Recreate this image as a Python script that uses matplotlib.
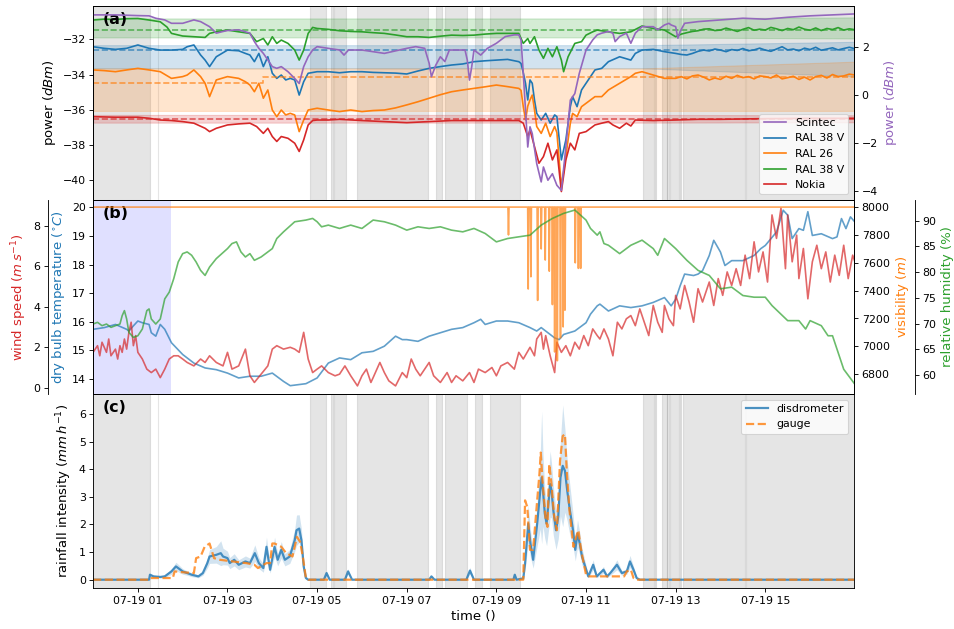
import numpy as np
import matplotlib
matplotlib.use('Agg')
import matplotlib.pyplot as plt
import matplotlib.dates as mdates

plt.rcParams['axes.labelsize'] = 12

day = np.datetime64('2019-07-19T00:00')

# periods marked as dry (hours after midnight)
dry_spans = [(0.0, 1.26), (1.44, 1.46), (4.84, 5.19), (5.32, 5.36), (5.38, 5.65),
             (5.88, 7.48), (7.65, 7.78), (7.85, 8.34), (8.52, 8.67), (8.86, 9.53),
             (12.28, 12.51), (12.54, 12.56), (12.69, 12.80), (12.81, 12.86),
             (12.88, 13.07), (13.10, 13.12), (13.16, 14.55), (14.57, 17.0)]
met_span = (0.0, 1.74)

# ---- link received power (dBm) ----
t_late = [13.0, 13.125, 13.25, 13.375, 13.5, 13.625, 13.75, 13.875, 14.0, 14.125,
          14.25, 14.375, 14.5, 14.625, 14.75, 14.875, 15.0, 15.125, 15.25, 15.375,
          15.5, 15.625, 15.75, 15.875, 16.0, 16.125, 16.25, 16.375, 16.5, 16.625,
          16.75, 16.875, 17.0]

link_t = [0, 0.25, 0.5, 0.75, 1.0, 1.25, 1.5, 1.75, 2.0, 2.1,
          2.25, 2.4, 2.5, 2.6, 2.75, 3.0, 3.25, 3.4, 3.5, 3.6,
          3.7, 3.8, 3.9, 4.0, 4.1, 4.2, 4.3, 4.4, 4.5, 4.6,
          4.7, 4.8, 5.0, 5.25, 5.5, 5.75, 6.0, 6.25, 6.5, 6.75,
          7.0, 7.25, 7.5, 7.75, 8.0, 8.25, 8.5, 8.75, 9.0, 9.25,
          9.5, 9.55, 9.6, 9.65, 9.7, 9.75, 9.8, 9.85, 9.9, 10.0,
          10.1, 10.2, 10.3, 10.35, 10.45, 10.55, 10.65, 10.7, 10.8, 10.9,
          11.0, 11.2, 11.35, 11.5, 11.75, 12.0, 12.1, 12.25, 12.5, 12.75]

ral38a_dbm = [-32.42, -32.51, -32.57, -32.51, -32.32, -32.51, -32.61, -32.61, -32.57, -32.42,
              -32.32, -32.89, -33.18, -33.55, -32.99, -32.61, -32.65, -32.80, -32.89, -33.27,
              -32.80, -33.55, -32.99, -33.93, -34.22, -34.03, -34.31, -34.22, -34.31, -35.17,
              -34.41, -33.93, -33.84, -33.84, -33.90, -33.84, -33.84, -33.88, -33.90, -33.92,
              -33.97, -33.80, -33.65, -33.55, -33.46, -33.40, -33.27, -33.22, -33.18, -33.14,
              -33.27, -33.37, -33.90, -34.50, -35.45, -34.31, -34.50, -35.45, -36.21, -36.59,
              -36.21, -36.77, -36.30, -36.40, -38.86, -37.72, -35.83, -35.26, -35.83, -34.88,
              -34.50, -33.74, -33.65, -33.27, -32.99, -33.18, -32.80, -32.61, -32.57, -32.70]
ral38a_late = [-32.80, -32.86, -32.89, -32.80, -32.68, -32.61, -32.66, -32.55, -32.61, -32.70,
               -32.58, -32.63, -32.52, -32.65, -32.60, -32.50, -32.61, -32.68, -32.55, -32.42,
               -32.60, -32.55, -32.65, -32.50, -32.58, -32.45, -32.62, -32.55, -32.48, -32.60,
               -32.52, -32.45, -32.53]

ral26_dbm = [-33.74, -33.78, -33.84, -33.74, -33.65, -33.74, -33.84, -34.22, -34.12, -34.03,
             -33.74, -34.12, -34.50, -35.26, -34.31, -34.12, -34.22, -34.41, -34.60, -34.98,
             -34.50, -35.35, -34.88, -36.02, -36.40, -36.02, -36.30, -36.21, -36.30, -37.25,
             -36.59, -36.02, -35.92, -36.02, -36.11, -36.02, -36.11, -36.05, -36.02, -35.90,
             -35.73, -35.55, -35.35, -35.15, -34.98, -34.88, -34.79, -34.70, -34.60, -34.69,
             -34.79, -34.90, -35.83, -36.59, -35.80, -35.45, -35.17, -36.00, -36.96, -37.35,
             -36.77, -37.53, -36.96, -37.30, -40.37, -38.67, -36.77, -36.21, -36.40, -35.83,
             -35.64, -35.26, -35.26, -34.88, -34.50, -34.12, -33.93, -33.84, -34.03, -34.22]
ral26_late = [-34.22, -34.12, -34.25, -34.08, -34.03, -34.15, -34.31, -34.20, -34.28, -34.10,
              -34.22, -34.05, -34.18, -34.12, -34.25, -34.08, -34.12, -34.20, -34.03, -34.25,
              -34.18, -34.10, -34.28, -34.15, -34.31, -34.12, -34.05, -34.20, -34.00, -34.12,
              -34.08, -33.98, -34.03]

ral38b_t = [0, 0.25, 0.5, 0.75, 1.0, 1.25, 1.5, 1.65, 1.75, 2.0,
            2.25, 2.5, 2.6, 2.75, 3.0, 3.25, 3.5, 3.65, 3.8, 3.9,
            4.0, 4.1, 4.2, 4.35, 4.5, 4.6, 4.7, 4.8, 4.9, 5.0,
            5.25, 5.5, 5.75, 6.0, 6.25, 6.5, 6.75, 7.0, 7.25, 7.5,
            7.75, 8.0, 8.25, 8.5, 8.75, 9.0, 9.3, 9.5, 9.6, 9.7,
            9.75, 9.85, 9.95, 10.05, 10.15, 10.25, 10.35, 10.45, 10.5, 10.6,
            10.75, 10.9, 11.0, 11.15, 11.25, 11.5, 11.75, 12.0, 12.25, 12.5,
            12.75]
ral38b_dbm = [-30.90, -30.85, -30.87, -30.82, -30.81, -30.90, -31.00, -31.30, -31.66, -31.81,
              -31.85, -31.89, -31.66, -31.57, -31.47, -31.57, -31.66, -32.13, -31.95, -32.32,
              -31.85, -32.23, -32.04, -32.23, -32.61, -33.18, -32.61, -31.66, -31.32, -31.38,
              -31.43, -31.51, -31.55, -31.57, -31.62, -31.66, -31.75, -31.85, -31.85, -31.89,
              -31.82, -31.76, -31.78, -31.76, -31.70, -31.66, -31.66, -31.66, -32.23, -31.95,
              -32.23, -31.85, -32.61, -33.08, -32.51, -32.99, -32.42, -33.18, -33.84, -32.99,
              -32.23, -32.13, -31.76, -31.57, -31.47, -31.57, -31.66, -31.57, -31.24, -31.38,
              -31.47]
ral38b_late = [-31.85, -31.70, -31.62, -31.55, -31.51, -31.42, -31.40, -31.50, -31.47, -31.36,
               -31.45, -31.55, -31.43, -31.33, -31.48, -31.42, -31.47, -31.32, -31.40, -31.50,
               -31.38, -31.45, -31.30, -31.42, -31.48, -31.35, -31.50, -31.38, -31.44, -31.33,
               -31.47, -31.40, -31.45]

nokia_t = [0, 0.5, 1.0, 1.25, 1.5, 1.75, 2.0, 2.25, 2.5, 2.6,
           2.75, 3.0, 3.25, 3.5, 3.65, 3.8, 3.9, 4.0, 4.1, 4.2,
           4.35, 4.5, 4.6, 4.7, 4.8, 4.9, 5.0, 5.25, 5.5, 6.0,
           6.5, 7.0, 7.5, 8.0, 8.5, 9.0, 9.5, 9.6, 9.7, 9.75,
           9.85, 9.95, 10.05, 10.15, 10.25, 10.35, 10.45, 10.55, 10.65, 10.75,
           10.85, 11.0, 11.2, 11.35, 11.5, 11.6, 11.75, 11.9, 12.0, 12.1,
           12.5, 13.0, 13.5, 14.0, 15.0, 16.0, 17.0]
nokia_dbm = [-36.40, -36.43, -36.43, -36.49, -36.59, -36.62, -36.68, -36.77, -37.06, -37.25,
             -37.06, -36.87, -36.81, -36.77, -36.96, -37.35, -37.06, -37.53, -37.81, -37.53,
             -37.63, -37.91, -38.38, -37.72, -36.87, -36.62, -36.59, -36.59, -36.55, -36.62,
             -36.68, -36.74, -36.68, -36.62, -36.62, -36.62, -36.62, -36.77, -37.53, -37.15,
             -38.10, -39.05, -38.67, -37.91, -38.86, -38.29, -40.66, -38.86, -37.91, -38.29,
             -37.35, -37.25, -36.87, -36.77, -36.68, -36.87, -37.06, -36.77, -36.93, -36.59,
             -36.62, -36.59, -36.55, -36.55, -36.51, -36.49, -36.49]

# dry-weather reference level and spread of each link
band_t = [0, 12.3, 17]
ral38a_lo, ral38a_hi = [-33.65, -33.65, -34.10], [-32.33, -32.33, -32.14]
ral26_lo, ral26_hi = [-36.07, -36.07, -36.07], [-33.65, -33.65, -33.27]
ral38b_lo, ral38b_hi = [-31.89, -31.89, -31.95], [-30.81, -30.81, -30.75]
nokia_lo, nokia_hi = [-36.74, -36.74, -36.72], [-36.30, -36.30, -36.32]
base_t = [0, 3.8, 17]
ral38a_base = [-32.61, -32.61, -32.61]
ral26_base = [-34.47, -34.12, -34.12]
ral38b_base = [-31.47, -31.47, -31.47]
nokia_base = [-36.55, -36.55, -36.55]

scintec_t = [0, 0.5, 1.0, 1.25, 1.4, 1.6, 1.75, 2.0, 2.25, 2.4,
             2.6, 2.75, 2.9, 3.0, 3.25, 3.5, 3.6, 3.7, 3.8, 3.9,
             4.0, 4.1, 4.2, 4.35, 4.5, 4.6, 4.7, 4.8, 4.9, 5.0,
             5.25, 5.5, 5.6, 5.7, 6.0, 6.5, 7.0, 7.2, 7.4, 7.5,
             7.55, 7.65, 7.75, 7.85, 7.95, 8.1, 8.3, 8.35, 8.4, 8.45,
             8.5, 8.65, 8.8, 9.0, 9.2, 9.4, 9.5, 9.55, 9.6, 9.65,
             9.7, 9.75, 9.8, 9.9, 10.0, 10.05, 10.15, 10.25, 10.35, 10.45,
             10.55, 10.65, 10.75, 10.85, 11.0, 11.15, 11.25, 11.35, 11.5, 11.6,
             11.65, 11.75, 11.9, 12.0, 12.1, 12.25, 12.5, 12.6, 12.75, 12.85,
             12.9, 13.0, 13.05, 13.1, 13.2, 13.5, 14.0, 14.5, 15.0, 15.5,
             16.0, 16.5, 17.0]
scintec_dbm = [3.32, 3.32, 3.29, 3.28, 3.18, 3.11, 2.97, 2.97, 3.11, 3.04,
               2.83, 2.56, 2.63, 2.67, 2.70, 2.56, 2.21, 1.93, 1.72, 1.45,
               1.17, 1.10, 1.17, 0.96, 0.68, 0.47, 1.17, 1.58, 1.86, 2.00,
               1.93, 1.86, 1.65, 1.86, 1.86, 1.72, 1.93, 2.00, 1.93, 1.31,
               0.75, 1.24, 1.58, 1.38, 1.86, 1.86, 1.86, 1.45, 0.61, 1.17,
               1.86, 1.65, 1.93, 2.14, 2.42, 2.49, 2.49, 2.28, 0.89, -0.64,
               -2.17, -1.33, -1.61, -2.86, -3.62, -3.00, -3.55, -3.28, -3.76, -3.97,
               -2.17, -0.22, 0.05, 0.89, 1.86, 2.28, 2.49, 2.56, 2.63, 2.56,
               2.21, 2.42, 2.56, 2.14, 2.56, 2.83, 2.83, 2.70, 2.90, 2.97,
               2.90, 2.83, 2.35, 2.63, 2.97, 3.04, 3.11, 3.18, 3.14, 3.22,
               3.28, 3.32, 3.36]

# ---- weather station ----
temp_t = [0, 0.25, 0.5, 0.75, 0.8, 0.9, 1.0, 1.1, 1.25, 1.3,
          1.4, 1.5, 1.6, 1.75, 2.0, 2.25, 2.5, 2.75, 3.0, 3.25,
          3.5, 3.75, 4.0, 4.25, 4.4, 4.75, 5.0, 5.25, 5.5, 5.75,
          6.0, 6.25, 6.5, 6.75, 6.9, 7.0, 7.25, 7.5, 7.75, 8.0,
          8.25, 8.5, 8.65, 8.75, 9.0, 9.25, 9.5, 9.75, 9.9, 10.0,
          10.15, 10.3, 10.4, 10.5, 10.75, 11.0, 11.1, 11.25, 11.31, 11.5,
          11.75, 12.0, 12.25, 12.5, 12.75, 12.9, 13.0, 13.1, 13.2, 13.4,
          13.5, 13.6, 13.75, 13.85, 14.0, 14.1, 14.25, 14.5, 14.75, 14.9,
          15.0, 15.25, 15.4, 15.5, 15.6, 15.75, 15.85, 15.95, 16.05, 16.25,
          16.5, 16.6, 16.7, 16.8, 16.9, 17.0]
temp_c = [15.74, 15.80, 15.91, 15.74, 15.68, 15.86, 16.03, 15.97, 15.91, 15.62,
          15.50, 15.91, 15.74, 15.27, 14.86, 14.56, 14.39, 14.33, 14.21, 14.04,
          14.10, 14.10, 14.21, 13.92, 13.77, 13.84, 14.04, 14.56, 14.74, 14.68,
          14.92, 14.97, 15.15, 15.50, 15.38, 15.38, 15.32, 15.50, 15.62, 15.74,
          15.80, 15.97, 16.09, 15.91, 16.03, 16.03, 15.97, 15.80, 15.68, 15.80,
          15.62, 15.44, 15.38, 15.56, 15.68, 15.97, 16.27, 16.56, 16.62, 16.38,
          16.56, 16.50, 16.56, 16.68, 16.85, 16.56, 16.79, 17.26, 17.67, 17.62,
          17.67, 17.79, 18.32, 18.85, 18.44, 17.97, 18.14, 18.14, 18.32, 18.56,
          18.67, 19.14, 19.90, 19.73, 18.91, 19.26, 19.20, 19.85, 19.02, 19.08,
          18.91, 18.97, 19.61, 19.26, 19.67, 19.49]

wind_t = [0, 0.1, 0.15, 0.2, 0.3, 0.35, 0.4, 0.5, 0.55, 0.6,
          0.65, 0.7, 0.75, 0.8, 0.85, 0.9, 0.95, 1.0, 1.1, 1.2,
          1.3, 1.4, 1.5, 1.6, 1.7, 1.8, 1.9, 2.0, 2.1, 2.25,
          2.4, 2.5, 2.6, 2.75, 2.9, 3.0, 3.1, 3.25, 3.4, 3.5,
          3.6, 3.75, 3.9, 4.0, 4.1, 4.25, 4.4, 4.5, 4.6, 4.7,
          4.8, 4.9, 5.0, 5.1, 5.25, 5.4, 5.5, 5.62, 5.75, 5.9,
          6.0, 6.1, 6.2, 6.25, 6.4, 6.5, 6.6, 6.75, 6.9, 7.0,
          7.1, 7.2, 7.3, 7.4, 7.5, 7.6, 7.75, 7.9, 8.0, 8.1,
          8.25, 8.4, 8.5, 8.6, 8.75, 8.9, 9.0, 9.1, 9.25, 9.4,
          9.5, 9.6, 9.75, 9.85, 9.9, 10.0, 10.05, 10.1, 10.2, 10.3,
          10.35, 10.45, 10.55, 10.65, 10.75, 10.85, 10.95, 11.05, 11.15, 11.25,
          11.31, 11.4, 11.5, 11.6, 11.7, 11.8, 11.9, 12.0, 12.1, 12.2,
          12.3, 12.4, 12.5, 12.6, 12.7, 12.75, 12.85, 12.95, 13.0, 13.1,
          13.2, 13.3, 13.4, 13.5, 13.6, 13.75, 13.85, 13.95, 14.05, 14.15,
          14.25, 14.35, 14.45, 14.55, 14.65, 14.75, 14.85, 14.95, 15.05, 15.15,
          15.25, 15.35, 15.45, 15.5, 15.6, 15.7, 15.75, 15.85, 15.95, 16.05,
          16.15, 16.25, 16.35, 16.45, 16.55, 16.65, 16.75, 16.85, 16.95, 17.0]
wind_ms = [1.75, 2.08, 1.58, 2.25, 1.75, 2.41, 1.58, 1.91, 1.42, 2.08,
           1.75, 2.41, 1.91, 2.74, 3.24, 2.08, 2.58, 1.75, 1.42, 0.92,
           0.75, 0.92, 0.50, 0.92, 1.42, 1.58, 1.58, 1.42, 1.25, 1.08,
           1.42, 1.25, 1.58, 1.25, 1.08, 1.75, 0.92, 1.08, 1.91, 0.59,
           0.26, 0.67, 1.08, 1.91, 2.08, 1.91, 2.00, 1.91, 1.75, 2.74,
           1.42, 0.75, 0.92, 1.08, 0.75, 0.59, 0.67, 1.08, 0.59, 0.09,
           0.59, 0.92, 0.26, 0.50, 1.25, 0.75, 0.34, 0.09, 0.75, 0.50,
           1.42, 0.92, 0.59, 0.92, 1.25, 0.59, 0.26, 0.75, 0.26, 0.59,
           0.34, 0.75, 0.26, 0.92, 0.75, 1.00, 0.59, 1.08, 1.25, 0.92,
           1.75, 1.42, 2.00, 1.58, 2.41, 2.74, 1.91, 2.58, 1.58, 0.75,
           2.25, 1.75, 2.08, 1.58, 2.25, 1.91, 2.58, 2.08, 2.91, 2.58,
           2.41, 2.91, 2.41, 1.58, 3.24, 2.91, 3.41, 3.57, 3.07, 3.90,
           3.24, 2.58, 4.07, 3.24, 2.74, 4.07, 3.41, 3.07, 4.57, 3.90,
           5.06, 4.24, 3.24, 4.90, 4.24, 5.23, 4.07, 5.40, 4.57, 5.73,
           5.06, 5.89, 5.06, 6.56, 5.40, 7.22, 5.73, 6.72, 5.23, 8.55,
           7.39, 8.88, 5.89, 8.55, 6.23, 7.55, 5.40, 6.89, 4.40, 6.23,
           7.05, 5.89, 6.72, 5.23, 6.56, 5.56, 7.05, 5.40, 6.56, 6.23]

rh_t = [0, 0.1, 0.2, 0.3, 0.4, 0.5, 0.6, 0.65, 0.7, 0.75,
        0.8, 0.9, 1.0, 1.1, 1.2, 1.25, 1.3, 1.4, 1.5, 1.6,
        1.7, 1.8, 1.9, 2.0, 2.1, 2.2, 2.3, 2.4, 2.5, 2.6,
        2.75, 3.0, 3.1, 3.2, 3.3, 3.4, 3.5, 3.6, 3.75, 4.0,
        4.1, 4.25, 4.5, 4.75, 4.9, 5.0, 5.1, 5.25, 5.5, 5.62,
        5.75, 6.0, 6.25, 6.5, 6.75, 7.0, 7.25, 7.5, 7.75, 8.0,
        8.25, 8.5, 8.75, 9.0, 9.25, 9.5, 9.75, 10.0, 10.25, 10.5,
        10.75, 11.0, 11.1, 11.25, 11.31, 11.4, 11.5, 11.75, 12.0, 12.25,
        12.5, 12.6, 12.75, 13.0, 13.25, 13.5, 13.75, 14.0, 14.25, 14.5,
        14.75, 15.0, 15.15, 15.5, 15.75, 15.9, 16.0, 16.25, 16.4, 16.5,
        16.75, 17.0]
rh_pct = [69.91, 70.24, 69.59, 69.91, 69.26, 69.59, 69.91, 71.54, 72.52, 70.89,
          68.29, 67.31, 67.63, 68.94, 72.52, 72.85, 70.89, 69.91, 70.89, 74.80,
          76.11, 78.72, 81.98, 83.61, 83.94, 83.29, 81.98, 80.35, 79.37, 81.00,
          82.64, 84.59, 85.57, 85.90, 83.94, 82.96, 83.61, 82.31, 82.96, 84.59,
          86.55, 87.85, 89.81, 90.14, 90.46, 89.81, 88.83, 89.16, 88.51, 88.83,
          89.16, 88.51, 90.14, 89.81, 89.16, 88.18, 88.83, 88.51, 88.83, 88.18,
          87.85, 88.51, 87.53, 85.90, 86.55, 86.88, 87.20, 89.16, 90.46, 91.44,
          92.09, 90.14, 88.51, 87.20, 87.85, 85.57, 85.24, 83.61, 85.24, 86.23,
          84.59, 83.29, 86.55, 84.59, 82.31, 80.35, 79.37, 76.76, 77.09, 75.46,
          75.13, 75.13, 73.50, 70.57, 70.57, 68.94, 70.57, 69.59, 67.63, 67.63,
          61.11, 58.18]

# visibility sits at the sensor ceiling apart from short drops
vis_clear = 8000
vis_drop_t = [9.27, 9.71, 9.77, 9.92, 10.0, 10.09, 10.18, 10.25, 10.3, 10.36,
              10.43, 10.49, 10.53, 10.76, 10.83, 10.88]
vis_drop_m = [7800, 7412, 7500, 7330, 7700, 7620, 7540, 7300, 6960, 6897,
              7060, 7140, 7260, 7600, 7560, 7560]

# ---- rainfall ----
dis_t = [0, 1.25, 1.27, 1.35, 1.5, 1.6, 1.75, 1.85, 1.95, 2.0,
         2.1, 2.2, 2.35, 2.45, 2.55, 2.6, 2.75, 2.85, 2.9, 3.0,
         3.05, 3.15, 3.25, 3.4, 3.5, 3.61, 3.7, 3.8, 3.87, 3.95,
         4.05, 4.12, 4.2, 4.28, 4.39, 4.5, 4.54, 4.6, 4.65, 4.7,
         4.75, 4.8, 5.15, 5.21, 5.28, 5.62, 5.69, 5.78, 7.5, 7.55,
         7.62, 8.33, 8.41, 8.5, 9.38, 9.41, 9.45, 9.6, 9.64, 9.71,
         9.76, 9.82, 9.91, 9.98, 10.01, 10.04, 10.08, 10.12, 10.2, 10.23,
         10.27, 10.33, 10.38, 10.43, 10.48, 10.53, 10.58, 10.64, 10.71, 10.76,
         10.81, 10.86, 10.91, 10.98, 11.05, 11.16, 11.24, 11.39, 11.47, 11.54,
         11.69, 11.8, 11.91, 11.98, 12.06, 12.13, 12.2, 17.0]
dis_mmh = [0, 0, 0.18, 0.12, 0.10, 0.12, 0.30, 0.48, 0.36, 0.30,
           0.24, 0.18, 0.12, 0.24, 0.60, 0.84, 0.90, 0.96, 0.84, 0.78,
           0.60, 0.72, 0.54, 0.66, 0.60, 0.96, 0.60, 0.42, 1.19, 0.36,
           1.19, 0.72, 1.08, 0.72, 0.84, 1.43, 1.79, 1.85, 1.43, 0.48,
           0.06, 0, 0, 0.24, 0, 0, 0.30, 0, 0, 0.12,
           0, 0, 0.33, 0, 0, 0.18, 0, 0.05, 0.60, 2.03,
           1.31, 0.72, 2.03, 3.23, 3.70, 3.23, 2.39, 2.03, 3.46, 3.23,
           2.51, 1.79, 2.27, 3.70, 4.12, 3.94, 3.23, 2.51, 1.79, 1.08,
           1.67, 1.31, 0.84, 0.48, 0.12, 0.54, 0.12, 0.36, 0.12, 0.24,
           0.54, 0.24, 0.30, 0.66, 0.36, 0.06, 0, 0]
dis_err = [0, 0, 0.05, 0.04, 0.04, 0.05, 0.10, 0.15, 0.12, 0.10,
           0.08, 0.07, 0.05, 0.08, 0.18, 0.25, 0.30, 0.45, 0.30, 0.25,
           0.20, 0.22, 0.18, 0.20, 0.18, 0.30, 0.20, 0.15, 0.35, 0.12,
           0.35, 0.22, 0.30, 0.22, 0.25, 0.40, 0.55, 0.50, 0.40, 0.15,
           0.03, 0, 0, 0.08, 0, 0, 0.10, 0, 0, 0.04,
           0, 0, 0.12, 0, 0, 0.06, 0, 0.02, 0.25, 0.70,
           0.50, 0.30, 0.80, 1.40, 2.40, 1.30, 0.90, 0.80, 1.20, 1.00,
           0.90, 0.70, 0.80, 1.40, 2.20, 1.50, 1.10, 0.90, 0.60, 0.40,
           0.50, 0.40, 0.30, 0.18, 0.05, 0.18, 0.05, 0.12, 0.05, 0.08,
           0.18, 0.08, 0.10, 0.22, 0.12, 0.03, 0, 0]

gauge_t = [0, 1.25, 1.28, 1.78, 1.82, 2.0, 2.25, 2.3, 2.4, 2.49,
           2.6, 2.7, 2.83, 3.12, 3.42, 3.6, 3.68, 3.87, 3.95, 4.0,
           4.05, 4.2, 4.31, 4.45, 4.55, 4.62, 4.68, 4.75, 4.8, 9.6,
           9.64, 9.69, 9.75, 9.82, 9.91, 9.96, 9.99, 10.03, 10.1, 10.14,
           10.18, 10.23, 10.29, 10.35, 10.42, 10.48, 10.53, 10.57, 10.63, 10.72,
           10.78, 10.83, 10.88, 10.94, 11.0, 11.05, 11.85, 11.91, 12.0, 12.06,
           12.12, 17.0]
gauge_mmh = [0, 0, 0.06, 0.06, 0.30, 0.27, 0.24, 0.78, 0.84, 1.19,
             1.31, 0.78, 0.72, 0.66, 0.60, 0.54, 0.42, 0.60, 0.60, 1.31,
             1.31, 1.19, 0.96, 0.84, 1.55, 1.37, 0.84, 0.06, 0, 0,
             2.87, 2.63, 1.08, 1.08, 2.87, 3.82, 4.60, 3.58, 2.15, 1.91,
             4.18, 3.46, 2.27, 1.79, 4.30, 5.20, 5.26, 3.94, 2.51, 1.19,
             1.55, 1.79, 1.19, 0.66, 0.18, 0.12, 0.12, 0.30, 0.36, 0.06,
             0, 0]


def at(hours):
    secs = np.round(np.asarray(hours, dtype=float) * 3600).astype('int64')
    return day + secs.astype('timedelta64[s]')


fig, (ax_a, ax_b, ax_c) = plt.subplots(3, 1, sharex=True, figsize=(12, 7.912), dpi=79.5)
fig.subplots_adjust(left=0.098, right=0.8952, top=0.9905, bottom=0.0652, hspace=0)

for ax in (ax_a, ax_c):
    for start, end in dry_spans:
        x0, x1 = at([start, end])
        ax.axvspan(x0, x1, color='gray', alpha=0.2)

# (a) link power
links = [
    ('RAL 38 V', 'tab:blue', link_t + t_late, ral38a_dbm + ral38a_late, ral38a_lo, ral38a_hi, ral38a_base),
    ('RAL 26', 'tab:orange', link_t + t_late, ral26_dbm + ral26_late, ral26_lo, ral26_hi, ral26_base),
    ('RAL 38 V', 'tab:green', ral38b_t + t_late, ral38b_dbm + ral38b_late, ral38b_lo, ral38b_hi, ral38b_base),
    ('Nokia', 'tab:red', nokia_t, nokia_dbm, nokia_lo, nokia_hi, nokia_base),
]
handles = []
for name, color, t, p, lo, hi, base in links:
    ax_a.fill_between(at(band_t), lo, hi, color=color, alpha=0.2)
    ax_a.plot(at(base_t), base, color=color, ls='--', lw=1.5, alpha=0.7, drawstyle='steps-post')
    line, = ax_a.plot(at(t), p, color=color, lw=1.5, label=name)
    handles.append(line)
ax_a.set_ylim(-41.14, -30.1)
ax_a.set_yticks([-40, -38, -36, -34, -32])
ax_a.set_ylabel('power ($dBm$)')

ax_p = ax_a.twinx()
sc, = ax_p.plot(at(scintec_t), scintec_dbm, color='tab:purple', lw=1.5, label='Scintec')
ax_p.set_ylim(-4.37, 3.69)
ax_p.set_yticks([-4, -2, 0, 2])
ax_p.set_ylabel('power ($dBm$)', color='tab:purple')
ax_p.legend([sc] + handles, [h.get_label() for h in [sc] + handles], loc='lower right')

# (b) weather
x0, x1 = at(list(met_span))
ax_b.axvspan(x0, x1, color='blue', alpha=0.12, lw=0)
ax_b.plot(at(temp_t), temp_c, color='tab:blue', alpha=0.7, lw=1.5)
ax_b.set_ylim(13.48, 20.26)
ax_b.set_yticks([14, 15, 16, 17, 18, 19, 20])
ax_b.set_ylabel('dry bulb temperature ($^{\\circ}C$)', color='tab:blue')

ax_w = ax_b.twinx()
ax_w.spines['left'].set_position(('axes', -0.06))
ax_w.spines['left'].set_visible(True)
ax_w.yaxis.set_ticks_position('left')
ax_w.yaxis.set_label_position('left')
ax_w.plot(at(wind_t), wind_ms, color='tab:red', alpha=0.7, lw=1.5)
ax_w.set_ylim(-0.31, 9.29)
ax_w.set_yticks([0, 2, 4, 6, 8])
ax_w.set_ylabel('wind speed ($m\\,s^{-1}$)', color='tab:red')

vis_t, vis_m = [0.0], [vis_clear]
for t, m in zip(vis_drop_t, vis_drop_m):
    vis_t += [t - 0.012, t, t + 0.012]
    vis_m += [vis_clear, m, vis_clear]
vis_t.append(17.0)
vis_m.append(vis_clear)

ax_v = ax_b.twinx()
ax_v.plot(at(vis_t), vis_m, color='tab:orange', alpha=0.7, lw=1.5)
ax_v.set_ylim(6658, 8051)
ax_v.set_yticks([6800, 7000, 7200, 7400, 7600, 7800, 8000])
ax_v.set_ylabel('visibility ($m$)', color='tab:orange')

ax_rh = ax_b.twinx()
ax_rh.spines['right'].set_position(('axes', 1.08))
ax_rh.plot(at(rh_t), rh_pct, color='tab:green', alpha=0.7, lw=1.5)
ax_rh.set_ylim(56.3, 94.05)
ax_rh.set_yticks([60, 65, 70, 75, 80, 85, 90])
ax_rh.set_ylabel('relative humidity (%)', color='tab:green')

# (c) rainfall intensity
dis = np.array(dis_mmh)
err = np.array(dis_err)
ax_c.fill_between(at(dis_t), np.clip(dis - err, 0, None), dis + err,
                  color='tab:blue', alpha=0.2, lw=0)
ax_c.plot(at(dis_t), dis_mmh, color='tab:blue', alpha=0.8, lw=2, label='disdrometer')
ax_c.plot(at(gauge_t), gauge_mmh, color='tab:orange', alpha=0.8, lw=2, ls='--', label='gauge')
ax_c.set_ylim(-0.3, 6.72)
ax_c.set_ylabel('rainfall intensity ($mm\\,h^{-1}$)')
ax_c.legend(loc='upper right')

ax_c.set_xlim(at([0.01, 16.98]))
ax_c.xaxis.set_major_locator(mdates.HourLocator(byhour=range(1, 24, 2)))
ax_c.xaxis.set_major_formatter(mdates.DateFormatter('%m-%d %H'))
ax_c.set_xlabel('time ()')

for ax, tag in ((ax_a, '(a)'), (ax_b, '(b)'), (ax_c, '(c)')):
    ax.text(0.012, 0.97, tag, transform=ax.transAxes, va='top', ha='left',
            fontsize='x-large', fontweight='bold')

fig.savefig('out.png', dpi=79.5)
